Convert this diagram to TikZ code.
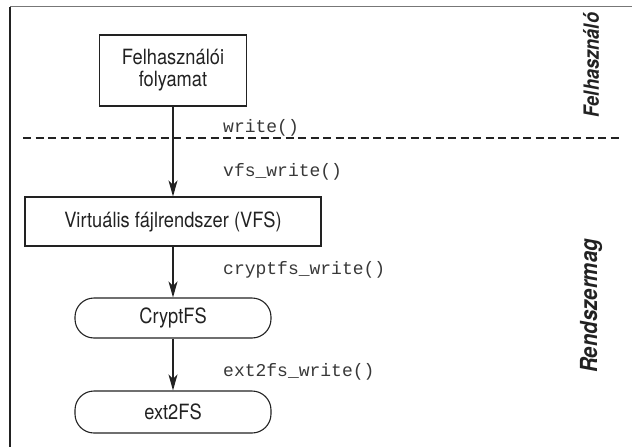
\documentclass[tikz,border=0pt]{standalone}
\usepackage{fontspec}
\setmainfont{TeX Gyre Heros}[FakeStretch=0.87]
\newfontfamily\codefont{Liberation Mono}
\usetikzlibrary{arrows.meta}
\definecolor{linecol}{HTML}{222222}
\definecolor{framegray}{HTML}{777777}
\begin{document}
\begin{tikzpicture}[x=1pt,y=-1pt,
  plainbox/.style={draw=linecol, line width=1.1pt, inner sep=0pt, align=center,
    font=\fontsize{21}{24}\selectfont, text=linecol},
  pillbox/.style={plainbox, rounded corners=19pt},
  codelabel/.style={font=\codefont\fontsize{18}{20}\selectfont, anchor=west, inner sep=0pt, text=linecol!90},
  sidelabel/.style={font=\bfseries\itshape\fontsize{21}{24}\selectfont, rotate=90, inner sep=0pt, text=linecol},
  flow/.style={draw=linecol, line width=1.1pt, -{Stealth[length=16pt,width=9pt,inset=4.5pt]}},
  divider/.style={draw=linecol, line width=2pt, dash pattern=on 8pt off 4.5pt}]
\useasboundingbox (0,0) rectangle (632,447);
% frame
\coordinate (ftl) at (10,6.5);
\coordinate (ftr) at (632,6.5);
\coordinate (fbl) at (10,447);
\draw[framegray, line width=1.8pt] (ftl) -- (ftr);
\draw[linecol, line width=1.8pt] (ftl) -- (fbl);
% divider
\coordinate (dl) at (23,138);
\coordinate (dr) at (621,138);
\draw[divider] (dl) -- (dr);
% nodes
\node[plainbox, minimum width=147pt, minimum height=71pt] (user) at (173,70.5) {Felhasználói\\[-2pt]folyamat};
\node[plainbox, minimum width=296pt, minimum height=49pt] (vfs) at (173,221.5) {Virtuális fájlrendszer (VFS)};
\node[pillbox, minimum width=196pt, minimum height=40pt] (crypt) at (173,318) {CryptFS};
\node[pillbox, minimum width=196pt, minimum height=42pt] (ext) at (173,412) {ext2FS};
% connectors
\draw[flow] (user) -- (vfs);
\draw[flow] (vfs) -- (crypt);
\draw[flow] (crypt) -- (ext);
% labels
\node[codelabel] (lw) at (223,128) {write()};
\node[codelabel] (lv) at (223,172) {vfs\_write()};
\node[codelabel] (lc) at (223,270) {cryptfs\_write()};
\node[codelabel] (le) at (223,372) {ext2fs\_write()};
\node[sidelabel] (su) at (591,65) {Felhasználó};
\node[sidelabel, font=\bfseries\itshape\fontsize{23.5}{26}\selectfont] (sk) at (591,306) {Rendszermag};
\end{tikzpicture}
\end{document}
